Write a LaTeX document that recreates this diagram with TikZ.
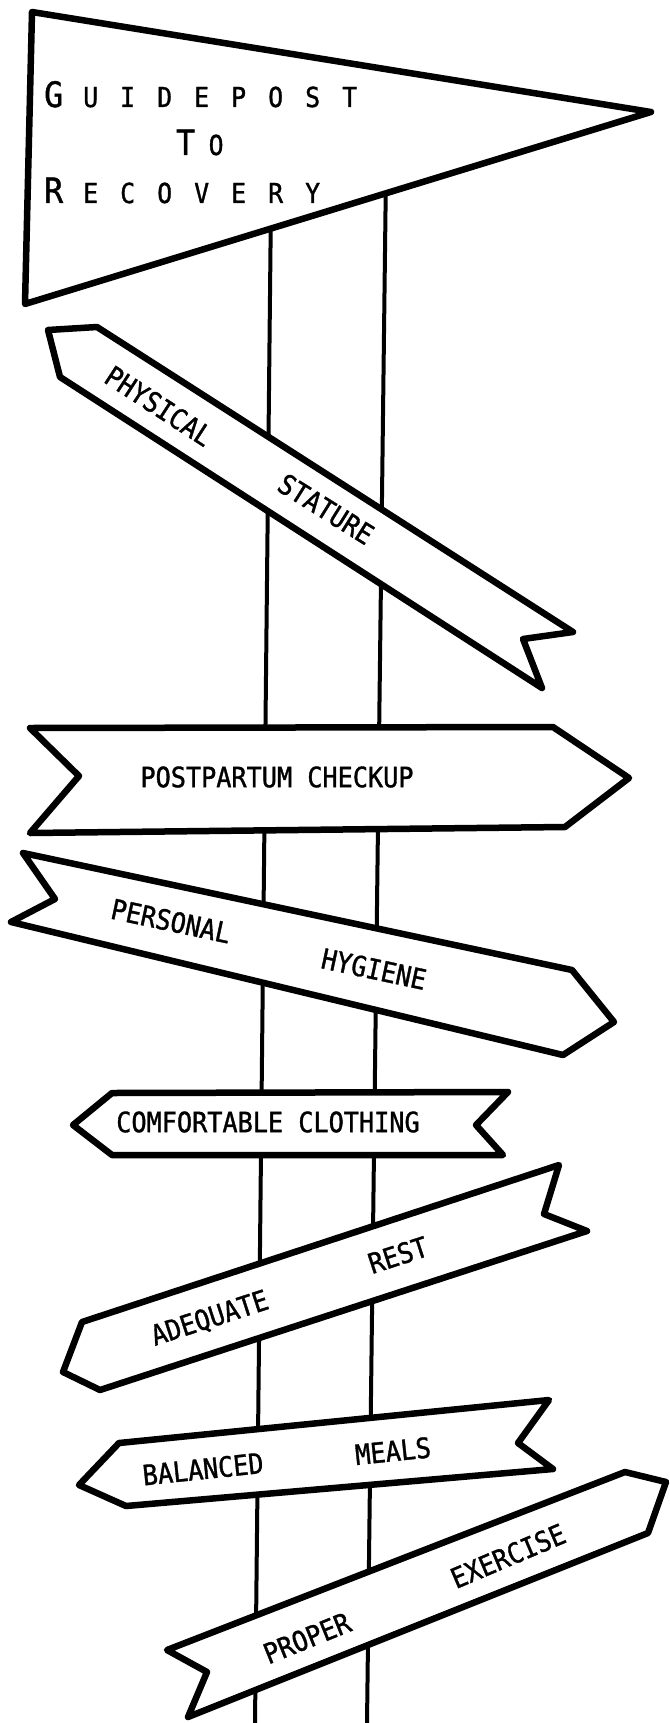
\documentclass[tikz,border=0pt]{standalone}
\usepackage{fontspec}
\newfontfamily\lettering[FakeStretch=0.9,FakeBold=1.2]{DejaVu Sans Mono}
\newcommand{\titlebig}{\lettering\fontsize{35}{35}\selectfont}
\newcommand{\titlesmall}{\lettering\fontsize{27.5}{28}\selectfont}
\newcommand{\tcell}[1]{\makebox[37pt][c]{#1}}
\tikzset{
  post/.style={line width=4pt},
  sign/.style={draw=black, fill=white, line width=6.5pt, line join=round},
  signtext/.style={font=\lettering\fontsize{28}{30}\selectfont, inner sep=0pt},
  titletext/.style={inner sep=0pt, anchor=base west},
}
\begin{document}
\begin{tikzpicture}[x=1pt,y=-1pt]
\useasboundingbox (0,0) rectangle (669,1723);
\fill[white] (0,0) rectangle (669,1723);
% posts
\coordinate (pl1) at (271,200); \coordinate (pl2) at (255,1723);
\coordinate (pr1) at (386,170); \coordinate (pr2) at (367,1723);
\draw[post] (pl1) -- (pl2);
\draw[post] (pr1) -- (pr2);
% pennant
\draw[sign] (32,12) -- (651,112) -- (25,304) -- cycle;
\node[titletext] (title1) at (35,107) {\tcell{\titlebig G}\titlesmall\tcell{U}\tcell{I}\tcell{D}\tcell{E}\tcell{P}\tcell{O}\tcell{S}\tcell{T}};
\node[titletext] (title2) at (176,155) {{\titlebig T}\hspace{13.5pt}{\titlesmall O}};
\node[titletext] (title3) at (35,203) {\tcell{\titlebig R}\titlesmall\tcell{E}\tcell{C}\tcell{O}\tcell{V}\tcell{E}\tcell{R}\tcell{Y}};
% physical stature
\draw[sign] (97,327) -- (48,330) -- (60,377) -- (542,688) -- (523,639) -- (573,632) -- cycle;
\node[signtext, rotate=-33] (phys) at (159,406) {PHYSICAL};
\node[signtext, rotate=-32] (stat) at (326,509) {STATURE};
% postpartum checkup
\draw[sign] (30,728) -- (553,727) -- (629,778) -- (565,827) -- (30,833) -- (79,776) -- cycle;
\node[signtext] (post) at (277,777) {POSTPARTUM CHECKUP};
% personal hygiene
\draw[sign] (23,853) -- (572,970) -- (614,1022) -- (563,1055) -- (11,922) -- (55,899) -- cycle;
\node[signtext, rotate=-12] (pers) at (171,921) {PERSONAL};
\node[signtext, rotate=-12] (hyg) at (374,969) {HYGIENE};
% comfortable clothing
\draw[sign] (73,1125) -- (112,1093) -- (508,1092) -- (476,1125) -- (503,1155) -- (112,1155) -- cycle;
\node[signtext] (comf) at (268,1122) {COMFORTABLE CLOTHING};
% adequate rest
\draw[sign] (559,1165) -- (544,1214) -- (587,1231) -- (100,1390) -- (63,1372) -- (82,1322) -- cycle;
\node[signtext, rotate=18] (adeq) at (210,1319) {ADEQUATE};
\node[signtext, rotate=18] (rest) at (398,1255) {REST};
% balanced meals
\draw[sign] (79,1485) -- (119,1443) -- (549,1400) -- (518,1443) -- (553,1469) -- (126,1506) -- cycle;
\node[signtext, rotate=6] (bal) at (203,1469) {BALANCED};
\node[signtext, rotate=6] (meals) at (393,1451) {MEALS};
% proper exercise
\draw[sign] (167,1650) -- (625,1472) -- (666,1482) -- (648,1533) -- (188,1717) -- (207,1672) -- cycle;
\node[signtext, rotate=22] (prop) at (307,1638) {PROPER};
\node[signtext, rotate=23] (exer) at (508,1556) {EXERCISE};
\end{tikzpicture}
\end{document}
